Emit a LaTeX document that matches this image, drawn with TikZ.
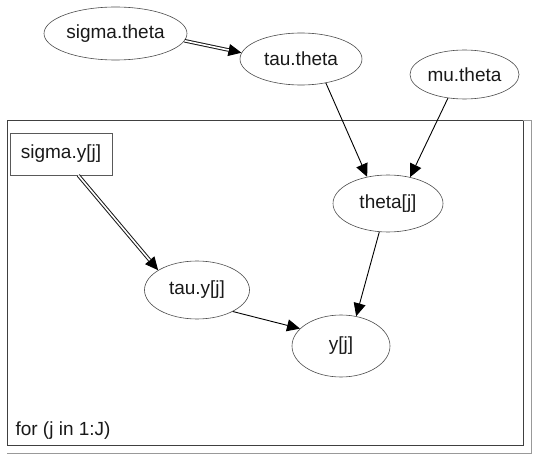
\documentclass[tikz,border=0pt]{standalone}
\usepackage{fontspec}
\setmainfont{Liberation Sans}
\usetikzlibrary{arrows.meta,shapes.geometric}
\begin{document}
\begin{tikzpicture}[x=1pt,y=-1pt,
  every node/.style={font=\fontsize{19}{22}\selectfont, text=black!90},
  var/.style={ellipse, draw=black!70, line width=0.6pt, inner sep=0pt},
  cbox/.style={rectangle, draw=black!65, line width=0.7pt, inner sep=0pt, minimum width=102pt, minimum height=42pt},
  arr/.style={-{Triangle[length=13pt,width=12pt]}, line width=0.9pt, black},
  dbl/.style={double=white, double distance=1.6pt, line width=1pt, draw=black!90, shorten >=13pt}
]
\useasboundingbox (0,0) rectangle (533,457);
% plate
\draw[black!75, line width=0.8pt] (7,120) rectangle (523,445);
\draw[black!40, line width=0.8pt] (7,453) -- (531,453) -- (531,120) -- (523,120);
\node[anchor=west] (for) at (12,431) {for (j in 1:J)};
% nodes
\node[var, minimum width=143pt, minimum height=53pt] (st) at (115.5,33.5) {sigma.theta};
\node[var, minimum width=122pt, minimum height=52pt] (tt) at (301,59) {tau.theta};
\node[var, minimum width=109pt, minimum height=49pt] (mt) at (464.5,74.5) {mu.theta};
\node[var, minimum width=110pt, minimum height=57pt] (th) at (388,203.5) {theta[j]};
\node[var, minimum width=105pt, minimum height=58pt] (ty) at (197,290) {tau.y[j]};
\node[var, minimum width=98pt, minimum height=62pt] (yj) at (341,346) {y[j]};
\node[cbox] (sy) at (61,154) {sigma.y[j]};
% edges
\draw[arr] (st.-6) -- (tt.174);
\draw[dbl] (st.-6) -- (tt.174);
\draw[arr] (sy.-51) -- (ty.153);
\draw[dbl] (sy.-51) -- (ty.153);
\draw[arr] (tt.-44) -- (th.128);
\draw[arr] (mt.235) -- (th.50);
\draw[arr] (th.253) -- (yj.63);
\draw[arr] (ty.-31) -- (yj.157);
\end{tikzpicture}
\end{document}
